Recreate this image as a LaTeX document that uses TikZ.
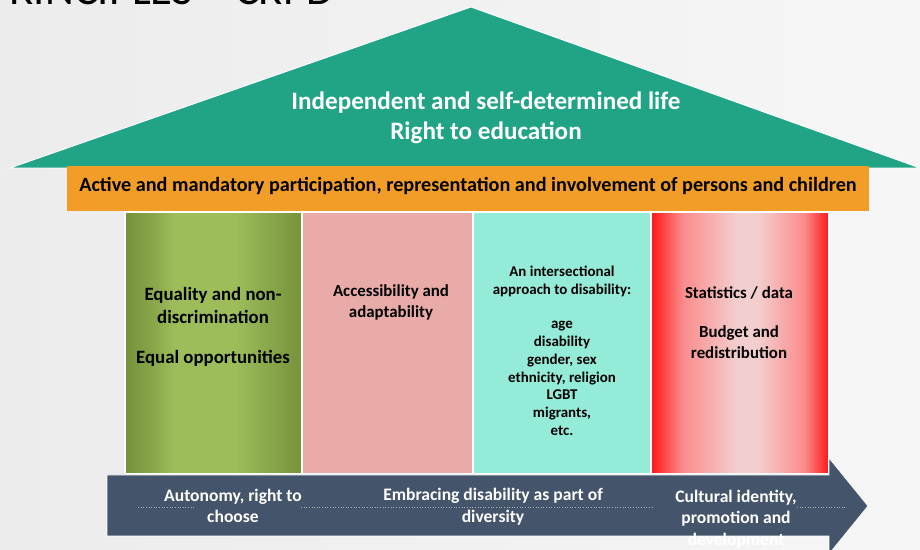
\documentclass[tikz,border=0pt]{standalone}
\usepackage{fontspec}
\setmainfont{Carlito}
\usetikzlibrary{calc}

\definecolor{bglight}{RGB}{246,246,246}
\definecolor{bgdark}{RGB}{236,236,236}
\definecolor{roofgreen}{RGB}{33,163,133}
\definecolor{beamorange}{RGB}{242,157,39}
\definecolor{pillarpink}{RGB}{232,171,168}
\definecolor{pillarteal}{RGB}{147,235,216}
\definecolor{arrowslate}{RGB}{68,84,106}
\definecolor{olivedark}{RGB}{118,146,60}
\definecolor{olivemid}{RGB}{134,164,72}
\definecolor{olivelight}{RGB}{157,189,91}
\definecolor{redfull}{RGB}{255,22,22}
\definecolor{redmid}{RGB}{250,140,140}
\definecolor{redpale}{RGB}{243,206,206}

% Verlauf der Säulen
\pgfdeclarehorizontalshading{olivecol}{100bp}{color(0bp)=(olivedark); color(25bp)=(olivedark);
  color(32bp)=(olivemid); color(39bp)=(olivelight); color(56bp)=(olivelight);
  color(67bp)=(olivemid); color(75bp)=(olivedark); color(100bp)=(olivedark)}
\pgfdeclarehorizontalshading{redcol}{100bp}{color(0bp)=(redfull); color(25bp)=(redfull);
  color(34bp)=(redmid); color(49bp)=(redpale); color(55bp)=(redpale);
  color(68bp)=(redmid); color(75bp)=(redfull); color(100bp)=(redfull)}

\tikzset{
  pillar/.style = {draw = white, line width = 0.6pt},
  roottext/.style = {text = white, font = \bfseries\fontsize{14.3}{17}\selectfont, align = center},
  beamtext/.style = {text = black, font = \bfseries\fontsize{11.5}{13}\selectfont},
  colbig/.style = {text = black, font = \bfseries\fontsize{10.7}{13}\selectfont, align = center},
  colmid/.style = {text = black, font = \bfseries\fontsize{9.6}{12}\selectfont, align = center},
  colsmall/.style = {text = black, font = \bfseries\fontsize{8.5}{10.2}\selectfont, align = center},
  basetext/.style = {text = white, font = \bfseries\fontsize{10}{12.3}\selectfont, align = center},
  guide/.style = {draw = gray!60, densely dotted, line width = 0.5pt}
}

\begin{document}
\begin{tikzpicture}[x = 0.02cm, y = -0.02cm]
  % background
  \useasboundingbox (0,0) rectangle (920,550);
  \clip (0,0) rectangle (920,550);
  \path[left color = bgdark, right color = bglight] (0,0) rectangle (920,550);
  % title (cut off)
  \node[anchor = base east, font = \fontsize{25.4}{28}\selectfont, inner sep = 0pt](title)at(334,5){PRINCIPLES – CRPD};
  % roof
  \coordinate(roofl)at(10,168);
  \coordinate(roofr)at(920,168);
  \coordinate(rooft)at(471,7);
  \path[draw = white, line width = 0.5pt, fill = roofgreen](roofl)--(rooft)--(roofr)--cycle;
  \node[roottext](rooftext)at(486,118){Independent and self-determined life\\Right to education};
  % beam
  \path[fill = beamorange](67,166)rectangle(869,211);
  \node[beamtext](beam)at(468,186){Active and mandatory participation, representation and involvement of persons and children};
  % pillars
  \path[pillar, shading = olivecol](125,212)rectangle(302,474);
  \path[pillar, fill = pillarpink](302,212)rectangle(473,474);
  \path[pillar, fill = pillarteal](473,212)rectangle(651,474);
  \path[pillar, shading = redcol](651,212)rectangle(829,474);
  \node[colbig](p1)at(213,327){Equality and non-\\discrimination\\[10pt] Equal opportunities};
  \node[colmid](p2)at(391,302){Accessibility and\\adaptability};
  \node[colsmall](p3)at(562,351){An intersectional\\approach to disability:\\[9pt] age\\disability\\gender, sex\\ethnicity, religion\\LGBT\\migrants,\\etc.};
  \node[colmid](p4)at(739,323){Statistics / data\\[10pt] Budget and\\redistribution};
  % base arrow
  \path[draw = white, line width = 0.4pt, fill = arrowslate](107,475)--(829,475)--(829,458)--(868,506)--(829,554)--(829,536)--(107,536)--cycle;
  \coordinate(d1a)at(138,507);
  \coordinate(d1b)at(194,507);
  \coordinate(d2a)at(301,507);
  \coordinate(d2b)at(653,507);
  \coordinate(d3a)at(797,507);
  \coordinate(d3b)at(847,507);
  \path[guide](d1a)--(d1b);
  \path[guide](d2a)--(d2b);
  \path[guide](d3a)--(d3b);
  \node[basetext](b1)at(233,506){Autonomy, right to\\choose};
  \node[basetext](b2)at(493,507){Embracing disability as part of\\diversity};
  \node[basetext](b3)at(736,519){Cultural identity,\\promotion and\\development};
\end{tikzpicture}
\end{document}
